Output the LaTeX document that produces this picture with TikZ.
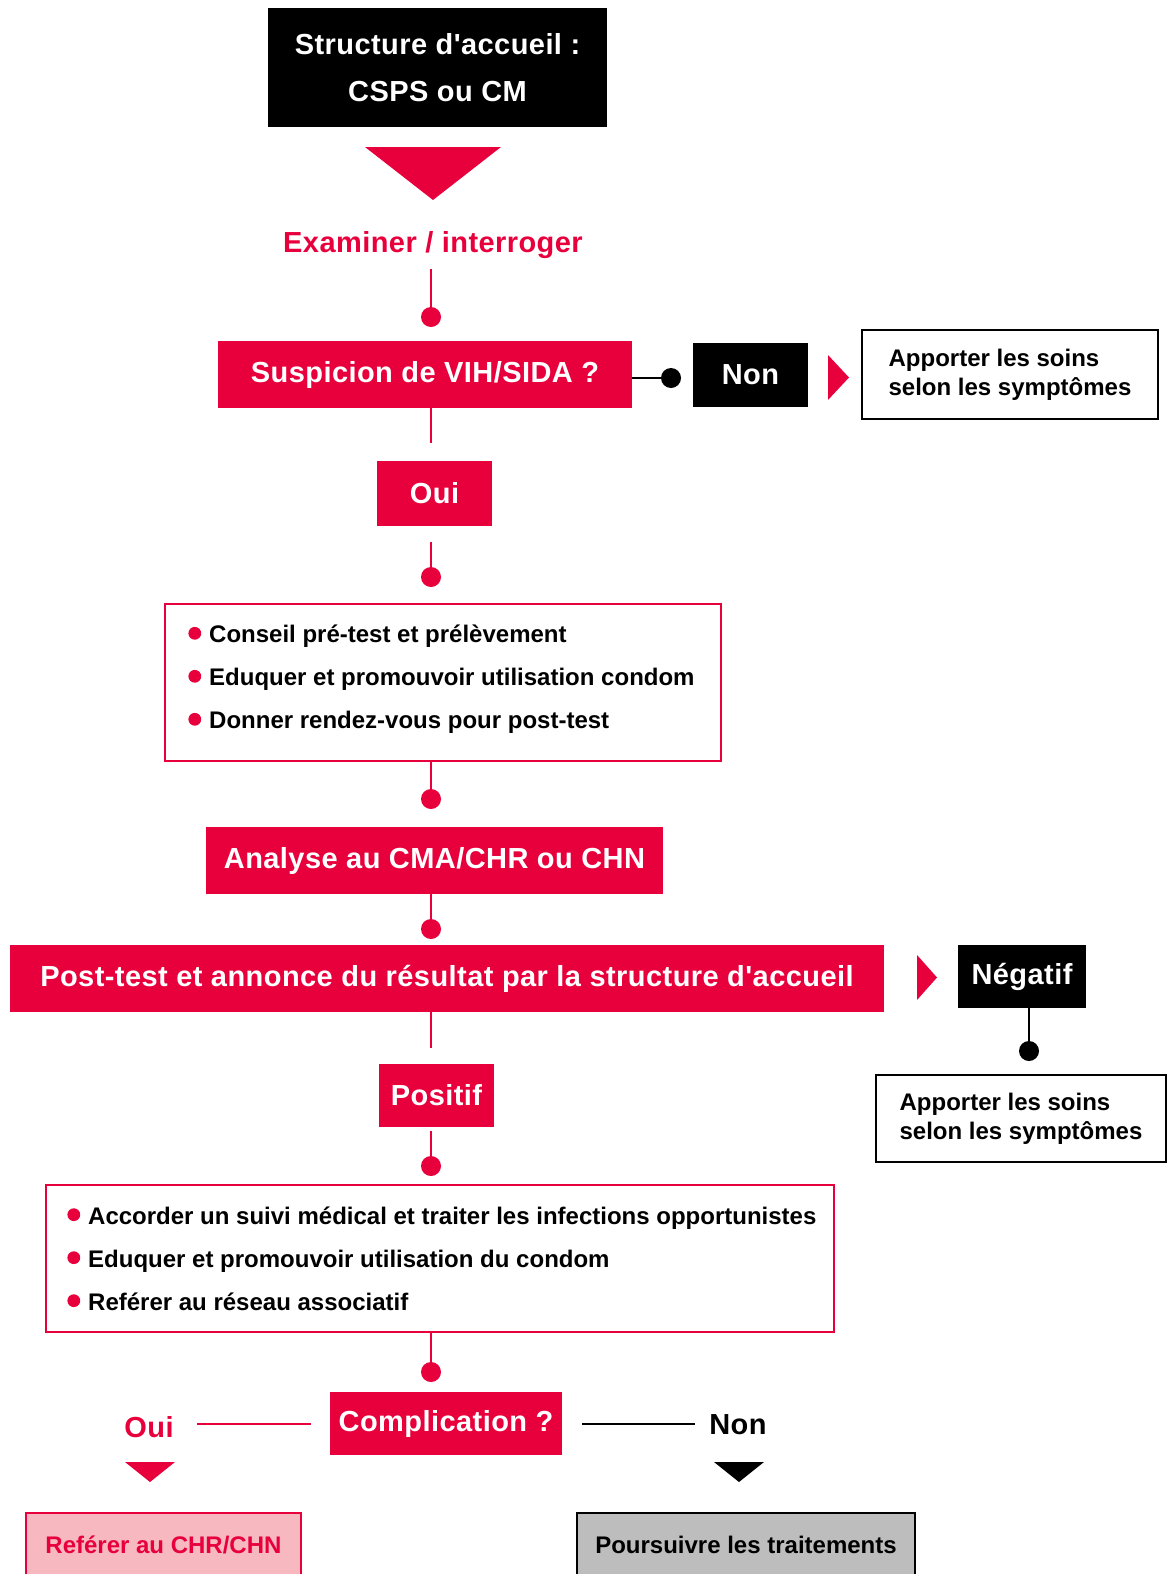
\documentclass[tikz,border=0pt]{standalone}
\usepackage{fontspec}
\setmainfont{Liberation Sans}
\newfontface\trackedface[LetterSpace=1.5]{Liberation Sans Bold}
\usepackage{xcolor}
\usetikzlibrary{positioning}
\definecolor{vihRed}{HTML}{E8003C}
\definecolor{vihPink}{HTML}{F7B8C0}
\definecolor{vihGray}{HTML}{BDBDBD}
\newcommand{\headfont}{\trackedface\fontsize{14.5}{23.5}\selectfont}
\newcommand{\itemfont}{\fontsize{12}{21.5}\selectfont\bfseries}
\newcommand{\notefont}{\fontsize{12}{14.5}\selectfont\bfseries}
\newcommand{\reddot}{\tikz[baseline=-0.75ex]\fill[vihRed] (0,0) circle (3.2pt);\hspace{4pt}}
\tikzset{
  redbox/.style={fill=vihRed,text=white,inner sep=0pt,font=\headfont},
  blackbox/.style={fill=black,text=white,inner sep=0pt,font=\headfont},
  notebox/.style={draw=black,line width=1pt,fill=white,inner xsep=12pt,inner ysep=0pt,
    align=left,font=\notefont},
  listbox/.style={draw=vihRed,line width=1pt,fill=white,inner sep=0pt},
  itemtext/.style={align=left,inner sep=0pt,font=\itemfont},
  referbox/.style={draw=vihRed,fill=vihPink,text=vihRed,line width=1pt,inner sep=0pt,
    anchor=north west,text height=20pt,text depth=40pt,font=\notefont},
  keepbox/.style={draw=black,fill=vihGray,line width=1pt,inner sep=0pt,
    anchor=north west,text height=20pt,text depth=40pt,font=\notefont},
  pin/.style={circle,fill=vihRed,inner sep=0pt,minimum size=10pt},
  blackpin/.style={pin,fill=black},
  link/.style={line width=1pt,draw=vihRed},
  blacklink/.style={line width=1pt,draw=black},
  tip/.style={fill=vihRed},
  redlabel/.style={text=vihRed,font=\headfont,inner sep=0pt},
  blacklabel/.style={text=black,font=\headfont,inner sep=0pt}
}

\begin{document}
\begin{tikzpicture}[x=0.5pt,y=-0.5pt]
  \useasboundingbox (0,0) rectangle (1170,1574);
  \clip (0,0) rectangle (1170,1574);

  % accueil et examen
  \node[blackbox,minimum width=169.5pt,minimum height=59.5pt,align=center] (accueil) at (437.5,67.5) {Structure d'accueil :\\CSPS ou CM};
  \fill[tip] (365,147) -- (501,147) -- (433,200) -- cycle;
  \node[redlabel] (examen) at (433,245) {Examiner / interroger};
  \node[pin] (p1) at (431,317) {};
  \draw[link,shorten <=5pt] (p1 |- examen.south) -- (p1);

  % suspicion
  \node[redbox,minimum width=207pt,minimum height=33.5pt] (suspicion) at (425,374.5) {Suspicion de VIH/SIDA ?};
  \node[blackpin] (pnon) at (671,378) {};
  \draw[blacklink] (suspicion.east |- pnon) -- (pnon);
  \node[blackbox,minimum width=57.5pt,minimum height=32pt] (non) at (750.5,375) {Non};
  \fill[tip] (828,355) -- (849,377.5) -- (828,400) -- cycle;
  \node[notebox,minimum width=148pt,minimum height=44.5pt] (soins) at (1010,374.5) {Apporter les soins\\selon les symptômes};

  \node[redbox,minimum width=57.5pt,minimum height=32.5pt] (oui) at (434.5,493.5) {Oui};
  \draw[link,shorten >=9pt] (suspicion.south -| p1) -- (oui.north -| p1);
  \node[pin] (p2) at (431,577) {};
  \draw[link,shorten <=8pt] (oui.south -| p2) -- (p2);

  % pre-test
  \node[listbox,minimum width=278pt,minimum height=78.5pt] (conseil) at (443,682.5) {};
  \node[itemtext,anchor=west] (conseilitems) at ([xshift=12pt,yshift=1.5pt]conseil.west)
    {\reddot Conseil pré-test et prélèvement\\
     \reddot Eduquer et promouvoir utilisation condom\\
     \reddot Donner rendez-vous pour post-test};
  \node[pin] (p3) at (431,799) {};
  \draw[link] (conseil.south -| p3) -- (p3);

  \node[redbox,minimum width=228.5pt,minimum height=33.5pt] (analyse) at (434.5,860.5) {Analyse au CMA/CHR ou CHN};
  \node[pin] (p4) at (431,929) {};
  \draw[link] (analyse.south -| p4) -- (p4);

  % annonce
  \node[redbox,minimum width=437pt,minimum height=33.5pt] (annonce) at (447,978.5) {Post-test et annonce du résultat par la structure d'accueil};
  \fill[tip] (917,955) -- (937,977.5) -- (917,1000) -- cycle;
  \node[blackbox,minimum width=64pt,minimum height=31.5pt] (negatif) at (1022,976.5) {Négatif};
  \node[blackpin] (pneg) at (1029,1051) {};
  \draw[blacklink] (negatif.south -| pneg) -- (pneg);
  \node[notebox,minimum width=145pt,minimum height=43.5pt] (soinsbis) at (1021,1118.5) {Apporter les soins\\selon les symptômes};

  \node[redbox,minimum width=57.5pt,minimum height=31.5pt] (positif) at (436.5,1095.5) {Positif};
  \draw[link,shorten >=8pt] (annonce.south -| p4) -- (positif.north -| p4);
  \node[pin] (p5) at (431,1166) {};
  \draw[link,shorten <=2pt] (positif.south -| p5) -- (p5);

  % suivi
  \node[listbox,minimum width=394pt,minimum height=73.5pt] (suivi) at (440,1258.5) {};
  \node[itemtext,anchor=west] (suiviitems) at ([xshift=11pt,yshift=0pt]suivi.west)
    {\reddot Accorder un suivi médical et traiter les infections opportunistes\\
     \reddot Eduquer et promouvoir utilisation du condom\\
     \reddot Reférer au réseau associatif};
  \node[pin] (p6) at (431,1372) {};
  \draw[link] (suivi.south -| p6) -- (p6);

  % complication
  \node[redbox,minimum width=116pt,minimum height=31.5pt] (complication) at (446,1423.5) {Complication ?};
  \node[redlabel] (ouibis) at (149,1427) {Oui};
  \node[blacklabel] (nonbis) at (738,1425) {Non};
  \draw[link,shorten <=11.5pt,shorten >=9.5pt] (complication.west -| ouibis.east) -- (complication.west);
  \draw[blacklink,shorten <=10pt,shorten >=7pt] (complication.east) -- (complication.east -| nonbis.west);
  \fill[tip] (125,1462) -- (175,1462) -- (150,1482) -- cycle;
  \fill (714,1462) -- (764,1462) -- (739,1482) -- cycle;

  \node[referbox,minimum width=137.5pt] (referer) at (25,1512) {Reférer au CHR/CHN};
  \node[keepbox,minimum width=169pt] (poursuivre) at (576,1512) {Poursuivre les traitements};
\end{tikzpicture}
\end{document}
